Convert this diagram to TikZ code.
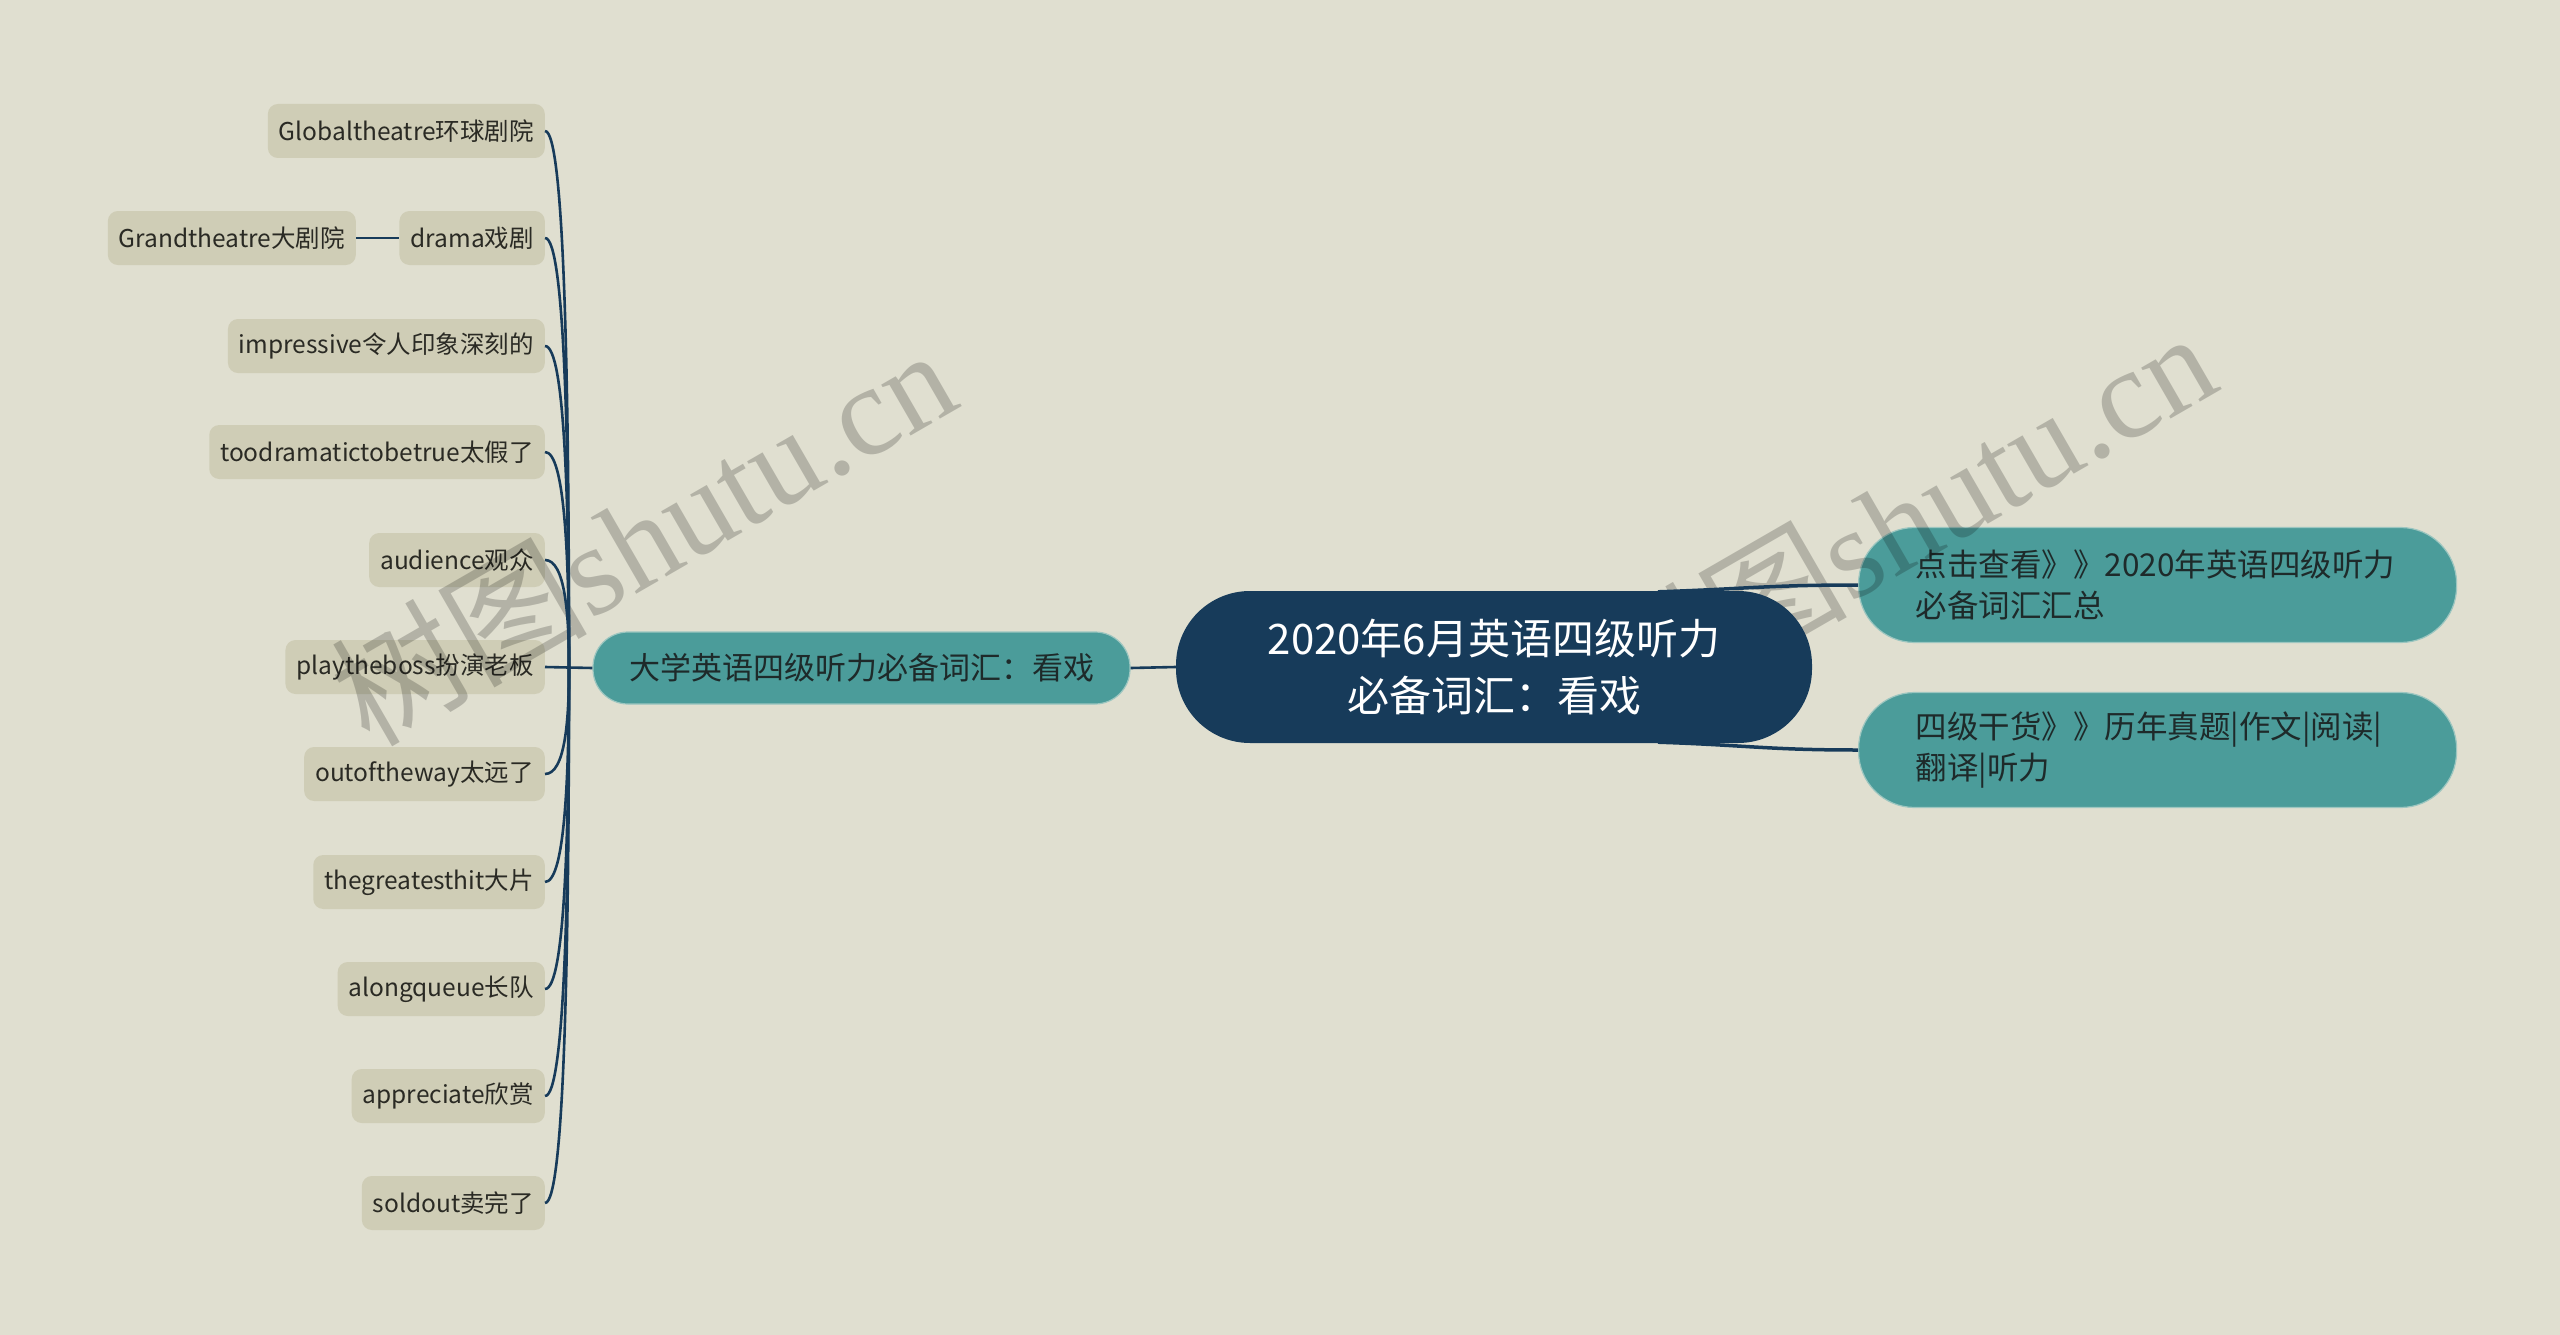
\documentclass[tikz,border=0pt]{standalone}
\usepackage{fontspec}
\setmainfont{Noto Sans CJK SC}
\newfontfamily\wmserif{Liberation Serif}
\usetikzlibrary{calc}
\definecolor{bg}{HTML}{E0DFD0}
\definecolor{leafc}{HTML}{CFCDB6}
\definecolor{navy}{HTML}{173B5A}
\definecolor{tealc}{HTML}{4B9C9A}
\definecolor{tealedge}{HTML}{9CC6C0}
\definecolor{ink}{HTML}{2A2A24}
\definecolor{inkt}{HTML}{1E2A2A}
\begin{document}
\begin{tikzpicture}[x=1pt,y=-1pt,
  leafbox/.style={fill=leafc, rounded corners=10pt, anchor=east, minimum height=54pt,
    inner xsep=11pt, inner ysep=0pt, text=ink, font=\fontsize{24.5}{29}\selectfont},
  midbox/.style={fill=tealc, draw=tealedge, line width=1.2pt, rounded corners=35pt,
    minimum height=72pt, minimum width=537pt, inner xsep=30pt, inner ysep=0pt,
    text=inkt, font=\fontsize{31}{37}\selectfont},
  rootbox/.style={fill=navy, rounded corners=74pt, minimum height=152pt, minimum width=636pt,
    inner sep=0pt, align=center, text=white, font=\fontsize{42}{57}\selectfont},
  rbox/.style={fill=tealc, draw=tealedge, line width=1.2pt, rounded corners=56pt,
    anchor=west, minimum height=115pt, text width=484pt, inner xsep=57pt, inner ysep=0pt,
    align=left, text=inkt, font=\fontsize{31.5}{41}\selectfont},
  conn/.style={draw=navy, line width=2.6pt},
  wm/.style={text=black, opacity=0.2, font=\fontsize{128}{138}\selectfont, inner sep=0pt}
]
\fill[bg] (0,0) rectangle (2560,1335);
\useasboundingbox (0,0) rectangle (2560,1335);

% leaves
\node[leafbox] (l1) at (545,131) {Globaltheatre环球剧院};
\node[leafbox] (l2) at (545,238) {drama戏剧};
\node[leafbox] (g2) at (356,238) {Grandtheatre大剧院};
\node[leafbox] (l3) at (545,346) {impressive令人印象深刻的};
\node[leafbox] (l4) at (545,452) {toodramatictobetrue太假了};
\node[leafbox] (l5) at (545,560) {audience观众};
\node[leafbox] (l6) at (545,667) {playtheboss扮演老板};
\node[leafbox] (l7) at (545,774) {outoftheway太远了};
\node[leafbox] (l8) at (545,882) {thegreatesthit大片};
\node[leafbox] (l9) at (545,989) {alongqueue长队};
\node[leafbox] (l10) at (545,1096) {appreciate欣赏};
\node[leafbox] (l11) at (545,1203) {soldout卖完了};

% main nodes
\node[midbox] (m) at (861.5,668) {大学英语四级听力必备词汇：看戏};
\node[rbox] (r1) at (1858,585) {点击查看》》2020年英语四级听力\\必备词汇汇总};
\node[rbox] (r2) at (1858,750) {四级干货》》历年真题|作文|阅读|\\翻译|听力};

% watermarks (the right one lies behind the root)
\node[wm, rotate=30] (w1) at (642,535) {树图{\wmserif shutu.cn}};
\node[wm, rotate=30] (w2) at (1902,518) {树图{\wmserif shutu.cn}};

\node[rootbox] (root) at (1494,667) {2020年6月英语四级听力\\必备词汇：看戏};

% connectors
\coordinate (hub) at (569,668);
\foreach \n in {l1,l2,l3,l4,l5,l7,l8,l9,l10,l11}{
  \draw[conn] (\n.east) .. controls +(20,0) and ($(hub)!0.5!(hub |- \n.east)$) .. (hub);
}
\draw[conn] (l6.east) -- (m.west);
\draw[conn] (g2.east) -- (l2.west);
\draw[conn] (m.east) -- (root.west);
\draw[conn, line width=3.5pt] ($(root.north)+(164,1)$) .. controls +(90,-3) and +(-90,0) .. (r1.west);
\draw[conn, line width=3.5pt] ($(root.south)+(164,-1)$) .. controls +(90,3) and +(-90,0) .. (r2.west);
\end{tikzpicture}
\end{document}
